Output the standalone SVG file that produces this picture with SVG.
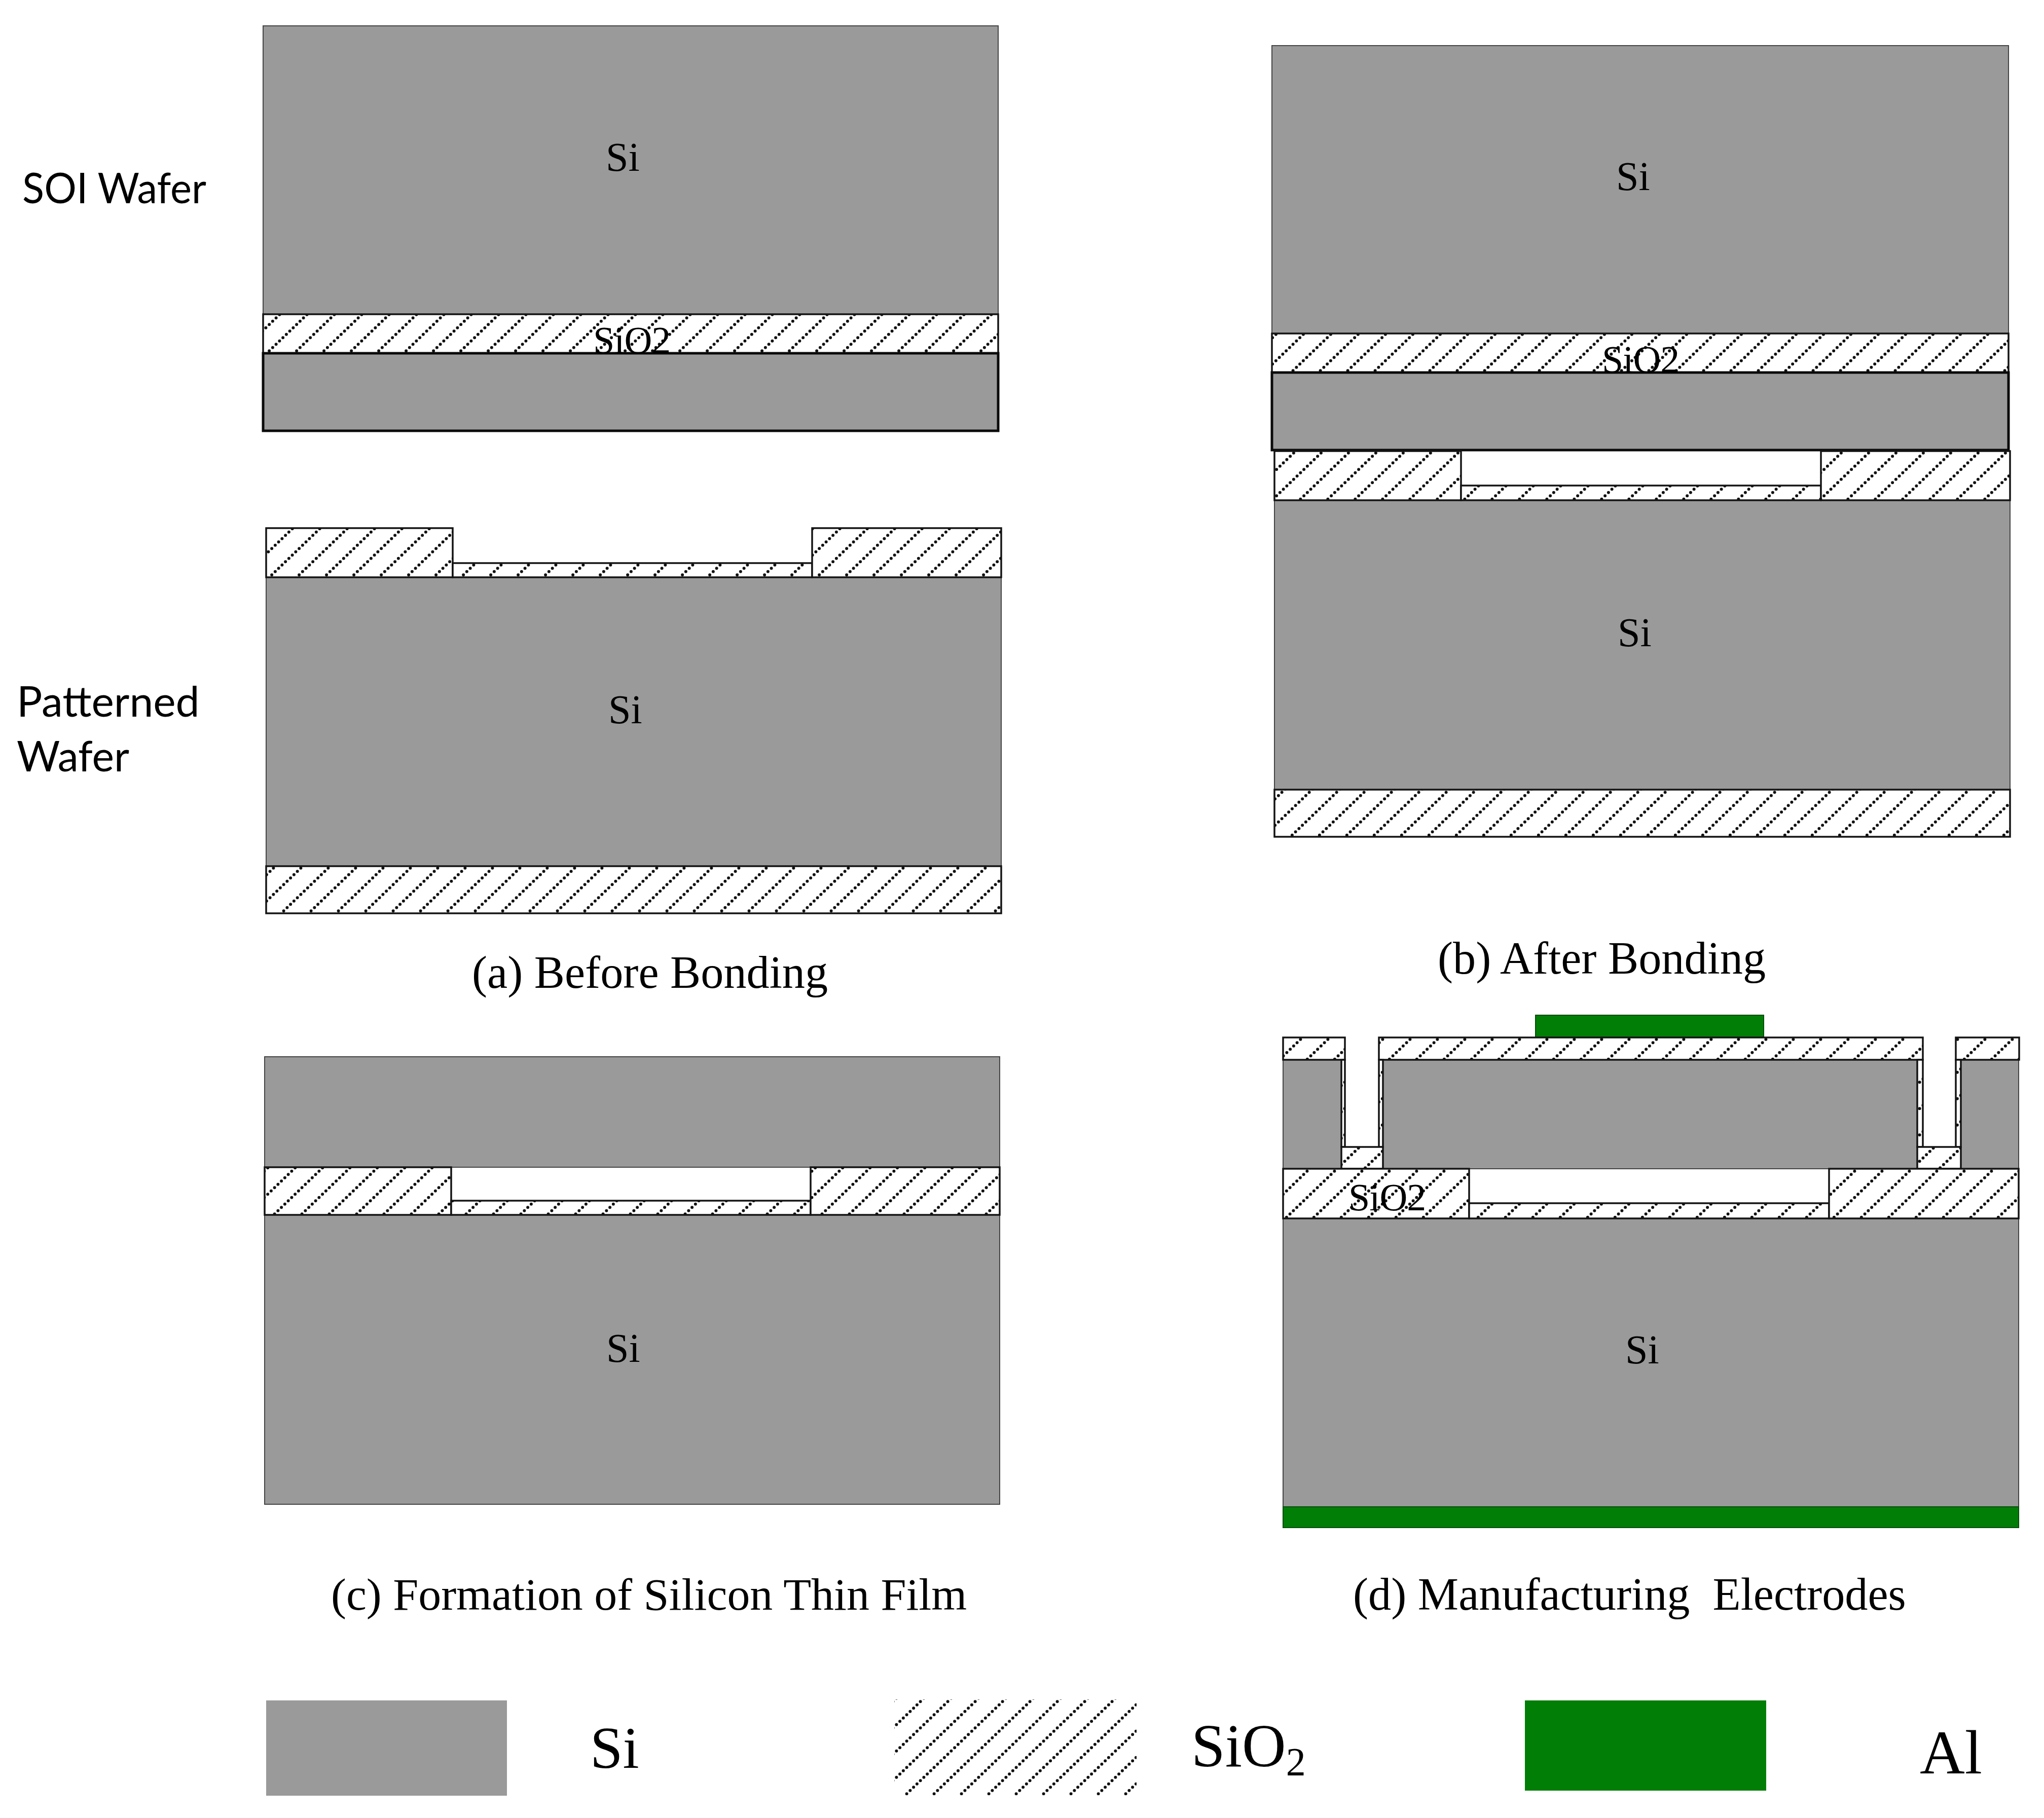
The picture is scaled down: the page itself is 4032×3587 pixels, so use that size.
<svg xmlns="http://www.w3.org/2000/svg" width="4032" height="3587" viewBox="0 0 4032 3587">
<style>
.si{fill:#9a9a9a;stroke:#444;stroke-width:2}
.sib{fill:#9a9a9a;stroke:#0a0a0a;stroke-width:5}
.ox{stroke:#141414;stroke-width:3.5}
.al{fill:#017e06;stroke:#05500a;stroke-width:2}
text{font-family:"Liberation Serif","Times New Roman",serif;fill:#000}
.lb{font-size:80px}
.ox-t{font-size:76px;letter-spacing:-1px}
.cap{font-size:90.3px}
.side{font-family:Lato,"Open Sans",sans-serif;font-size:84px}
.leg{font-size:116px}
</style>
<defs>
<pattern id="h" patternUnits="userSpaceOnUse" width="54" height="52">
<rect width="54" height="52" fill="#fff"/>
<line x1="0" y1="52" x2="54" y2="0" stroke="#111" stroke-width="6" stroke-linecap="round" stroke-dasharray="0 9.37" stroke-dashoffset="-4.68"/>
</pattern>
<pattern id="a1" href="#h" patternTransform="translate(8 0)"/>
<pattern id="a2" href="#h" patternTransform="translate(40 0)"/>
<pattern id="a3" href="#h" patternTransform="translate(50 0)"/>
<pattern id="b1" href="#h" patternTransform="translate(16 0)"/>
<pattern id="b2" href="#h" patternTransform="translate(24 0)"/>
<pattern id="b3" href="#h" patternTransform="translate(48 0)"/>
<pattern id="c1" href="#h" patternTransform="translate(5 0)"/>
<pattern id="d1" href="#h" patternTransform="translate(51 0)"/>
<pattern id="d2" href="#h" patternTransform="translate(10 0)"/>
</defs>
<rect width="4032" height="3587" fill="#fff"/>

<g id="panel-a">
<rect class="si" x="519" y="51" width="1450" height="569"/>
<rect class="ox" fill="url(#a1)" x="519" y="620" width="1450" height="77"/>
<rect class="sib" x="519" y="697" width="1450" height="153"/>
<rect class="si" x="525" y="1139" width="1450" height="570"/>
<rect class="ox" fill="url(#a2)" x="525" y="1042" width="368" height="97"/>
<rect class="ox" fill="url(#a2)" x="893" y="1111" width="709" height="28"/>
<rect class="ox" fill="url(#a2)" x="1602" y="1042" width="373" height="97"/>
<rect class="ox" fill="url(#a3)" x="525" y="1709" width="1450" height="93"/>
<text class="lb" x="1195" y="337">Si</text>
<text class="ox-t" x="1170" y="697">SiO2</text>
<text class="lb" x="1200" y="1427">Si</text>
<text class="cap" x="931" y="1949">(a) Before Bonding</text>
</g>

<g id="panel-b">
<rect class="si" x="2509" y="90" width="1453" height="568"/>
<rect class="ox" fill="url(#b1)" x="2509" y="658" width="1453" height="77"/>
<rect class="sib" x="2509" y="735" width="1453" height="153"/>
<rect class="si" x="2514" y="987" width="1451" height="571"/>
<rect class="ox" fill="url(#b2)" x="2514" y="890" width="368" height="97"/>
<rect class="ox" fill="url(#b2)" x="2882" y="958" width="710" height="29"/>
<rect class="ox" fill="url(#b2)" x="3592" y="890" width="373" height="97"/>
<rect class="ox" fill="url(#b3)" x="2514" y="1558" width="1451" height="93"/>
<text class="lb" x="3188" y="375">Si</text>
<text class="ox-t" x="3160" y="735">SiO2</text>
<text class="lb" x="3191" y="1275">Si</text>
<text class="cap" x="2836" y="1921">(b) After Bonding</text>
</g>

<g id="panel-c">
<rect class="si" x="522" y="2085" width="1450" height="218"/>
<rect class="si" x="522" y="2397" width="1450" height="571"/>
<rect class="ox" fill="url(#c1)" x="522" y="2303" width="368" height="94"/>
<rect class="ox" fill="url(#c1)" x="890" y="2369" width="709" height="28"/>
<rect class="ox" fill="url(#c1)" x="1599" y="2303" width="373" height="94"/>
<text class="lb" x="1196" y="2687">Si</text>
<text class="cap" x="653" y="3176" style="font-size:89.9px">(c) Formation of Silicon Thin Film</text>
</g>

<g id="panel-d">
<rect class="al" x="3029" y="2003" width="450" height="44"/>
<rect class="si" x="2531" y="2091" width="115" height="215"/>
<rect class="si" x="2728" y="2091" width="1054" height="215"/>
<rect class="si" x="3868" y="2091" width="114" height="215"/>
<rect class="si" x="2531" y="2404" width="1451" height="569"/>
<rect class="ox" fill="url(#d1)" x="2531" y="2047" width="122" height="44"/>
<rect class="ox" fill="url(#d1)" x="2720" y="2047" width="1073" height="44"/>
<rect class="ox" fill="url(#d1)" x="3858" y="2047" width="125" height="44"/>
<rect class="ox" fill="url(#d2)" x="2646" y="2091" width="7" height="172"/>
<rect class="ox" fill="url(#d2)" x="2720" y="2091" width="8" height="172"/>
<rect class="ox" fill="url(#d2)" x="3782" y="2091" width="11" height="172"/>
<rect class="ox" fill="url(#d2)" x="3858" y="2091" width="10" height="172"/>
<rect class="ox" fill="url(#d2)" x="2646" y="2263" width="82" height="43"/>
<rect class="ox" fill="url(#d2)" x="3782" y="2263" width="86" height="43"/>
<rect class="ox" fill="url(#d2)" x="2531" y="2306" width="367" height="98"/>
<rect class="ox" fill="url(#d2)" x="2898" y="2374" width="710" height="30"/>
<rect class="ox" fill="url(#d2)" x="3608" y="2306" width="374" height="98"/>
<rect class="al" x="2531" y="2973" width="1451" height="41"/>
<text class="ox-t" x="2660" y="2388">SiO2</text>
<text class="lb" x="3206" y="2690">Si</text>
<text class="cap" x="2669" y="3176" xml:space="preserve">(d) Manufacturing  Electrodes</text>
</g>

<g id="legend">
<rect x="525" y="3355" width="475" height="188" fill="#9a9a9a"/>
<text class="leg" x="1164" y="3488">Si</text>
<rect x="1764" y="3353" width="478" height="189" fill="url(#d2)"/>
<text class="leg" x="2350" y="3485" style="font-size:120px">SiO<tspan style="font-size:78px" dy="17">2</tspan></text>
<rect x="3008" y="3355" width="476" height="178" fill="#017e06"/>
<text class="leg" x="3787" y="3499" style="font-size:123px">Al</text>
</g>

<g id="side-labels">
<text class="side" x="44" y="401" textLength="363" lengthAdjust="spacingAndGlyphs">SOI Wafer</text>
<text class="side" x="33" y="1414">Patterned</text>
<text class="side" x="33" y="1522" textLength="222" lengthAdjust="spacingAndGlyphs">Wafer</text>
</g>
</svg>
